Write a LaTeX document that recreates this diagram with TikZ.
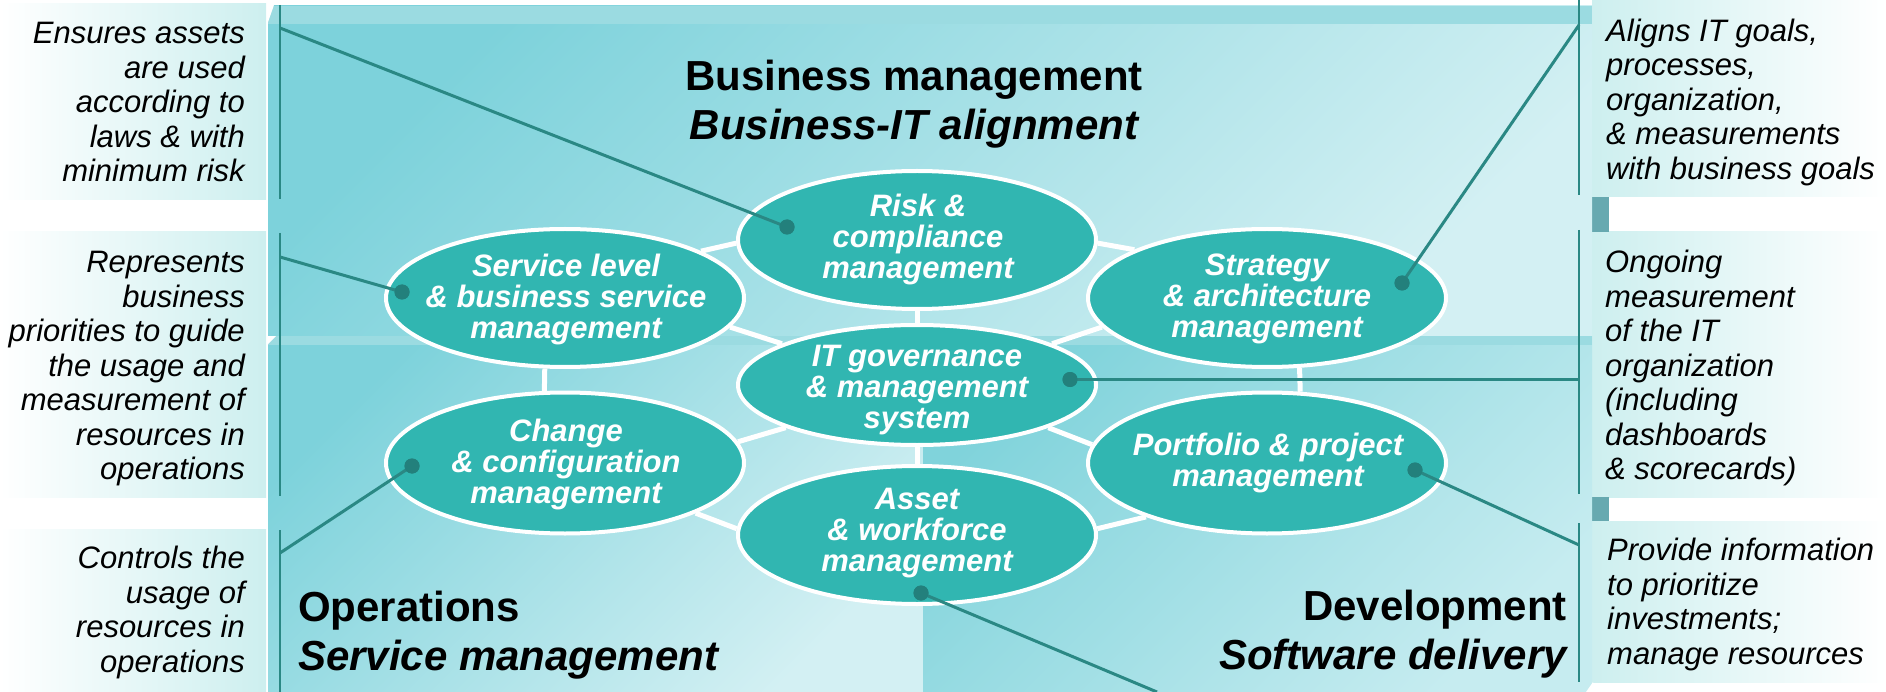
\documentclass[tikz,border=0pt]{standalone}
\usepackage{fontspec}
\setmainfont{Liberation Sans}
\usetikzlibrary{shapes.geometric}
\definecolor{pnlDark}{HTML}{7DD2DB}
\definecolor{pnlLight}{HTML}{D3F0F3}
\definecolor{devDark}{HTML}{80D3DB}
\definecolor{devLight}{HTML}{C6ECF0}
\definecolor{bandcol}{HTML}{9BDBE1}
\definecolor{bubfill}{HTML}{31B6B1}
\definecolor{conncol}{HTML}{2A8884}
\definecolor{dotcol}{HTML}{23807C}
\definecolor{boxcol}{HTML}{CDEFEF}
\definecolor{sidecol}{HTML}{67A9B0}
\pgfdeclarelayer{back}
\pgfdeclarelayer{mid}
\pgfsetlayers{back,mid,main}
\begin{document}
\begin{tikzpicture}[x=1pt,y=-1pt,
  bub/.style={ellipse, fill=bubfill, draw=white, line width=4pt, minimum width=358pt, minimum height=138pt, inner sep=0pt},
  bubtxt/.style={text=white, font=\fontsize{31}{31}\selectfont\bfseries\itshape, align=center, inner sep=0pt},
  notetxt/.style={font=\fontsize{31}{34.5}\selectfont\itshape, inner sep=0pt},
  headtxt/.style={font=\fontsize{42}{48.5}\selectfont\bfseries, inner sep=0pt},
  spoke/.style={draw=white, line width=5pt},
  conn/.style={draw=conncol, line width=3pt},
  vln/.style={draw=conncol, line width=2.5pt},
  dotn/.style={circle, fill=dotcol, minimum size=15pt, inner sep=0pt},
]
\useasboundingbox (0,0) rectangle (1886,692);

\begin{pgfonlayer}{back}
  % callout boxes
  \shade[left color=white, right color=boxcol] (0,4) rectangle (266,200);
  \shade[left color=white, right color=boxcol] (0,232) rectangle (266,497);
  \shade[left color=white, right color=boxcol] (0,529) rectangle (266,692);
  \shade[left color=boxcol, right color=white] (1592,0) rectangle (1886,197);
  \shade[left color=boxcol, right color=white] (1592,232) rectangle (1886,497);
  \shade[left color=boxcol, right color=white] (1592,521) rectangle (1886,682);
  \fill[sidecol] (1592,197) rectangle (1609,232);
  \fill[sidecol] (1592,497) rectangle (1609,521);
  % panels
  \shade[top color=pnlDark, bottom color=pnlLight, shading angle=45] (268,6) rectangle (1592,345);
  \fill[bandcol] (268,6) rectangle (1592,24);
  \shade[top color=pnlDark, bottom color=pnlLight, shading angle=45] (268,336) rectangle (923,692);
  \fill[bandcol] (268,336) rectangle (923,345);
  \shade[top color=devDark, bottom color=devLight, shading angle=45] (923,336) rectangle (1592,692);
  \fill[bandcol] (923,336) rectangle (1592,345);
  % small bevel notches
  \fill[white] (267,5) -- (274,5) -- (267,25) -- cycle;
  \fill[white] (267,336) -- (276,336) -- (267,345) -- cycle;
  \fill[white] (1593,682) -- (1593,692) -- (1586,692) -- cycle;
\end{pgfonlayer}

% headings
\node[headtxt, align=center] (hbiz) at (914,104) {Business management\\{\itshape Business-IT alignment}};
\node[headtxt, align=left, anchor=west] (hops) at (298,635) {Operations\\{\itshape Service management}};
\node[headtxt, align=right, anchor=east] (hdev) at (1567,634) {Development\\{\itshape Software delivery}};

% ellipses
\node[bub] (risk) at (917,240) {};
\node[bub, minimum height=120pt] (itg) at (917,385) {};
\node[bub] (asset) at (917,535) {};
\node[bub] (svc) at (565,298) {};
\node[bub, minimum height=141pt] (chg) at (565,463) {};
\node[bub] (strat) at (1267,298) {};
\node[bub, minimum height=141pt] (port) at (1267,463) {};

\node[bubtxt] (trisk) at (918,239) {Risk \&\\compliance\\management};
\node[bubtxt] (titg) at (917,390) {IT governance\\\& management\\system};
\node[bubtxt] (tasset) at (917,533) {Asset\\\& workforce\\management};
\node[bubtxt] (tsvc) at (566,299.5) {Service level\\\& business service\\management};
\node[bubtxt] (tchg) at (566,464) {Change\\\& configuration\\management};
\node[bubtxt] (tstrat) at (1267,299) {Strategy\\\& architecture\\management};
\node[bubtxt] (tport) at (1268,463) {Portfolio \& project\\management};

% spokes
\begin{pgfonlayer}{mid}
  \draw[spoke] (risk.181) -- (svc.19);
  \draw[spoke] (risk.-1) -- (strat.160);
  \draw[spoke] (svc.-10) -- (itg.163);
  \draw[spoke] (strat.190) -- (itg.17);
  \draw[spoke] (chg.7) -- (itg.198);
  \draw[spoke] (port.174) -- (itg.-18);
  \draw[spoke] (chg.-21) -- (asset.178);
  \draw[spoke] (port.204) -- (asset.2);
  \draw[spoke] (risk.south) -- (itg.north);
  \draw[spoke] (itg.south) -- (asset.north);
  \draw[spoke] (svc.254) -- (chg.106);
  \draw[spoke] (strat.295) -- (port.65);
\end{pgfonlayer}

% callout texts
\node[notetxt, align=right, anchor=east] (nl1) at (245,102) {Ensures assets\\are used\\according to\\laws \& with\\minimum risk};
\node[notetxt, align=right, anchor=east] (nl2) at (245,368.6) {Represents\\business\\priorities to guide\\the usage and\\measurement of\\resources in\\operations};
\node[notetxt, align=right, anchor=east] (nl3) at (245,612.7) {Controls the\\usage of\\resources in\\operations};
\node[notetxt, align=left, anchor=west] (nr1) at (1606,102) {Aligns IT goals,\\processes,\\organization,\\\& measurements\\with business goals};
\node[notetxt, align=left, anchor=west] (nr2) at (1605,368) {Ongoing\\measurement\\of the IT\\organization\\(including\\dashboards\\\& scorecards)};
\node[notetxt, align=left, anchor=west] (nr3) at (1607,604.7) {Provide information\\to prioritize\\investments;\\manage resources};

% vertical callout lines
\coordinate (vl1a) at (280,5);   \coordinate (vl1b) at (280,199);
\coordinate (vl2a) at (280,233); \coordinate (vl2b) at (280,496);
\coordinate (vl3a) at (280,530); \coordinate (vl3b) at (280,692);
\coordinate (vr1a) at (1579,0);  \coordinate (vr1b) at (1579,195);
\coordinate (vr2a) at (1579,230);\coordinate (vr2b) at (1579,494);
\coordinate (vr3a) at (1579,523);\coordinate (vr3b) at (1579,682);
\draw[vln] (vl1a) -- (vl1b);
\draw[vln] (vl2a) -- (vl2b);
\draw[vln] (vl3a) -- (vl3b);
\draw[vln] (vr1a) -- (vr1b);
\draw[vln] (vr2a) -- (vr2b);
\draw[vln] (vr3a) -- (vr3b);

% dots
\node[dotn] (drisk) at (787,227) {};
\node[dotn] (dsvc) at (402,292) {};
\node[dotn] (dchg) at (412,466) {};
\node[dotn] (dstrat) at (1402,283) {};
\node[dotn] (ditg) at (1070,379.5) {};
\node[dotn] (dport) at (1415,470) {};
\node[dotn] (dasset) at (921,593) {};

% connector ends
\coordinate (aL1) at (280,28);
\coordinate (aL2) at (280,257);
\coordinate (aL3) at (280,553);
\coordinate (aR1) at (1579,25);
\coordinate (aR2) at (1579,379.5);
\coordinate (aR3) at (1579,545);
\coordinate (aB) at (1157,692);

\draw[conn] (aL1) -- (drisk.center);
\draw[conn] (aL2) -- (dsvc.center);
\draw[conn] (aL3) -- (dchg.center);
\draw[conn] (aR1) -- (dstrat.center);
\draw[conn] (aR2) -- (ditg.center);
\draw[conn] (aR3) -- (dport.center);
\draw[conn] (dasset.center) -- (aB);

% redraw dots on top
\node[dotn] at (drisk) {};
\node[dotn] at (dsvc) {};
\node[dotn] at (dchg) {};
\node[dotn] at (dstrat) {};
\node[dotn] at (ditg) {};
\node[dotn] at (dport) {};
\node[dotn] at (dasset) {};
\end{tikzpicture}
\end{document}
